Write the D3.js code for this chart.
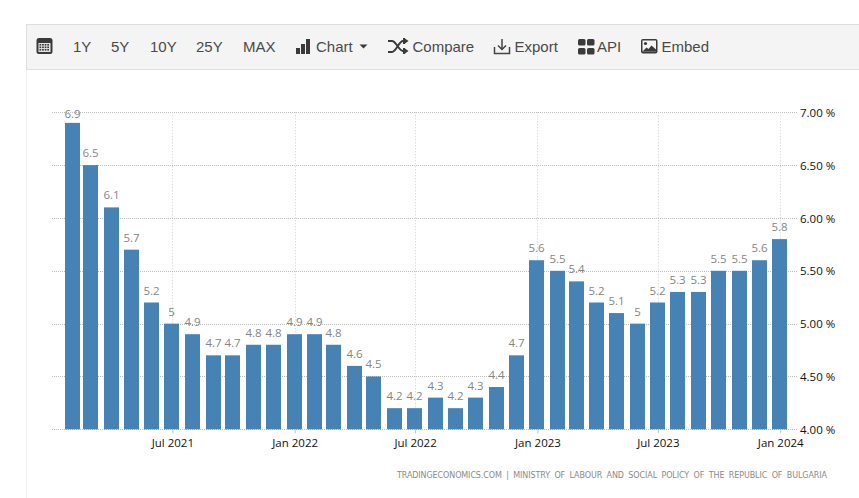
<!DOCTYPE html>
<html>
<head>
<meta charset="utf-8">
<script src="https://cdn.jsdelivr.net/npm/d3@7"></script>
<style>
  html, body { margin: 0; padding: 0; background: #fff; overflow: hidden; }
  svg { display: block; }
</style>
</head>
<body>
<div id="chart"></div>
<script>
// Data
var months = ["2021-02","2021-03","2021-04","2021-05","2021-06","2021-07","2021-08","2021-09","2021-10","2021-11","2021-12",
  "2022-01","2022-02","2022-03","2022-04","2022-05","2022-06","2022-07","2022-08","2022-09","2022-10","2022-11","2022-12",
  "2023-01","2023-02","2023-03","2023-04","2023-05","2023-06","2023-07","2023-08","2023-09","2023-10","2023-11","2023-12",
  "2024-01"];
var values = [6.9,6.5,6.1,5.7,5.2,5,4.9,4.7,4.7,4.8,4.8,
  4.9,4.9,4.8,4.6,4.5,4.2,4.2,4.3,4.2,4.3,4.4,4.7,
  5.6,5.5,5.4,5.2,5.1,5,5.2,5.3,5.3,5.5,5.5,5.6,
  5.8];
var yTicks = [4, 4.5, 5, 5.5, 6, 6.5, 7];
var xTicks = ["2021-07","2022-01","2022-07","2023-01","2023-07","2024-01"];
var rangeLabels = ["1Y","5Y","10Y","25Y","MAX"];
var sourceText = "TRADINGECONOMICS.COM | MINISTRY OF LABOUR AND SOCIAL POLICY OF THE REPUBLIC OF BULGARIA";

var svgWidth = 859;
var svgHeight = 498;
var parseMonth = d3.utcParse("%Y-%m");
var chartFont = "'Open Sans', sans-serif";

var svg = d3.select("#chart")
    .append("svg")
    .attr("width", svgWidth)
    .attr("height", svgHeight);

// Toolbar
//= ================================
svg.append("line")
    .attr("x1", 26.5).attr("x2", 26.5)
    .attr("y1", 69).attr("y2", svgHeight)
    .attr("stroke", "#f2f2f2");

svg.append("rect")
    .attr("x", 26.5).attr("y", 24.5)
    .attr("width", svgWidth).attr("height", 45)
    .attr("fill", "#f4f4f4")
    .attr("stroke", "#dedede");

var toolbar = svg.append("g")
    .attr("font-family", "'Liberation Sans', Arial, sans-serif")
    .attr("font-size", "15px")
    .attr("fill", "#4a4a4a");

function toolbarText(label, x) {
    toolbar.append("text").attr("x", x).attr("y", 52).text(label);
}

var rangeX = [73, 111, 150, 196, 243];
rangeLabels.forEach(function (label, i) {
    toolbarText(label, rangeX[i]);
});
toolbarText("Chart", 316);
toolbarText("Compare", 412.5);
toolbarText("Export", 514.5);
toolbarText("API", 597);
toolbarText("Embed", 661.5);

// calendar icon
var icons = svg.append("g").attr("fill", "#3a3a3a");
icons.append("rect").attr("x", 36.5).attr("y", 38).attr("width", 16).attr("height", 16).attr("rx", 2.5);
icons.append("rect").attr("x", 38.5).attr("y", 43).attr("width", 12).attr("height", 9).attr("fill", "#e4e4e4");
d3.range(4).forEach(function (c) {
    d3.range(3).forEach(function (r) {
        icons.append("rect")
            .attr("x", 39.5 + c * 2.6).attr("y", 44 + r * 2.5)
            .attr("width", 1.7).attr("height", 1.6);
    });
});

// bars icon next to Chart
[[296, 48, 4, 6], [301, 44, 4, 10], [306, 39, 4, 15]].forEach(function (b) {
    icons.append("rect").attr("x", b[0]).attr("y", b[1]).attr("width", b[2]).attr("height", b[3]);
});
// caret
icons.append("path").attr("d", "M359.5 44.5h8l-4 4z");

// shuffle icon
svg.append("path")
    .attr("d", "M388 41h4c4 0 7 10 11 10h2M388 52h4c4 0 7 -11 11 -11h2")
    .attr("fill", "none").attr("stroke", "#3a3a3a").attr("stroke-width", 2);
icons.append("path").attr("d", "M403 38l2 0 0 0 0 6 -2 0zM405 38.5l3.5 2.5 -3.5 2.5zM403 48l2 0 0 6 -2 0zM405 48.5l3.5 2.5 -3.5 2.5z");

// download icon
svg.append("path")
    .attr("d", "M502 39v10M498 45.5l4 4 4 -4M494.5 47v6.5h15v-6.5")
    .attr("fill", "none").attr("stroke", "#444").attr("stroke-width", 1.5);

// API squares
[[578, 39], [587, 39], [578, 48], [587, 48]].forEach(function (p) {
    icons.append("rect").attr("x", p[0]).attr("y", p[1]).attr("width", 7.5).attr("height", 6.5).attr("rx", 1.5);
});

// image icon
icons.append("rect").attr("x", 641).attr("y", 39).attr("width", 16.5).attr("height", 14.5).attr("rx", 2);
icons.append("rect").attr("x", 642.5).attr("y", 40.5).attr("width", 13.5).attr("height", 11).attr("fill", "#f4f4f4");
icons.append("circle").attr("cx", 645.5).attr("cy", 43.5).attr("r", 1.6);
icons.append("path").attr("d", "M642.5 51.5l4 -4 2 1.5 3 -3.5 4.5 4v2z");

// Chart
//= ================================
var xScale = d3.scaleUtc()
    .domain([parseMonth("2021-07"), parseMonth("2024-01")])
    .range([172.3, 780.2]);

var yScale = d3.scaleLinear()
    .domain([4, 7])
    .range([429.3, 112.3]);

var gridLeft = 52;
var gridRight = 798;
var barWidth = 15;

// bars snap to whole pixels the same way the original does
function barLeft(i) {
    return Math.floor(xScale(parseMonth(months[i])) - barWidth / 2);
}

// Vertical dotted grid
svg.append("g")
    .selectAll("line")
    .data(xTicks.map(parseMonth))
    .enter()
    .append("line")
    .attr("x1", d => Math.round(xScale(d)) + 0.5)
    .attr("x2", d => Math.round(xScale(d)) + 0.5)
    .attr("y1", yScale(7))
    .attr("y2", yScale(4))
    .attr("stroke", "#cfcfcf")
    .attr("stroke-dasharray", "1,2");

// Horizontal dotted grid
svg.append("g")
    .selectAll("line")
    .data(yTicks)
    .enter()
    .append("line")
    .attr("x1", gridLeft)
    .attr("x2", gridRight)
    .attr("y1", d => Math.round(yScale(d)) + 0.5)
    .attr("y2", d => Math.round(yScale(d)) + 0.5)
    .attr("stroke", "#bdbdbd")
    .attr("stroke-dasharray", "1,1");

// Bars
svg.append("g")
    .selectAll("rect")
    .data(values)
    .enter()
    .append("rect")
    .attr("x", (d, i) => barLeft(i))
    .attr("y", d => yScale(d))
    .attr("width", barWidth)
    .attr("height", d => yScale(4) - yScale(d))
    .attr("fill", "#4682b4");

// Value labels, the top one is held inside the plot
svg.append("g")
    .selectAll("text")
    .data(values)
    .enter()
    .append("text")
    .attr("x", (d, i) => barLeft(i) + barWidth / 2)
    .attr("y", d => Math.max(yScale(d) - 8, 118))
    .attr("text-anchor", "middle")
    .attr("font-family", chartFont)
    .attr("font-size", "11.5px")
    .attr("fill", "#858585")
    .text(d => d);

// Axes
var xAxis = d3.axisBottom(xScale)
    .tickValues(xTicks.map(parseMonth))
    .tickFormat(d3.utcFormat("%b %Y"))
    .tickSize(4)
    .tickPadding(6);

var xAxisGroup = svg.append("g")
    .attr("transform", `translate(0, ${yScale(4)})`)
    .call(xAxis);
xAxisGroup.select(".domain").remove();
xAxisGroup.selectAll("line").attr("stroke", "#c4c4c4");
xAxisGroup.selectAll("text")
    .attr("font-family", chartFont)
    .attr("font-size", "11.5px")
    .attr("fill", "#111");

var yAxisGroup = svg.append("g")
    .attr("transform", "translate(800, 0)")
    .call(d3.axisRight(yScale)
        .tickValues(yTicks)
        .tickFormat(d => d3.format(".2f")(d) + " %")
        .tickSize(0)
        .tickPadding(0));
yAxisGroup.select(".domain").remove();
yAxisGroup.selectAll("text")
    .attr("dy", "0.36em")
    .attr("font-family", chartFont)
    .attr("font-size", "11.5px")
    .attr("fill", "#111");

// Source line
svg.append("text")
    .attr("x", 397)
    .attr("y", 478)
    .attr("textLength", 430)
    .attr("lengthAdjust", "spacing")
    .style("word-spacing", "2px")
    .attr("font-family", "'DejaVu Sans', sans-serif")
    .attr("font-size", "8px")
    .attr("fill", "#8a8a8a")
    .text(sourceText);
</script>
</body>
</html>
